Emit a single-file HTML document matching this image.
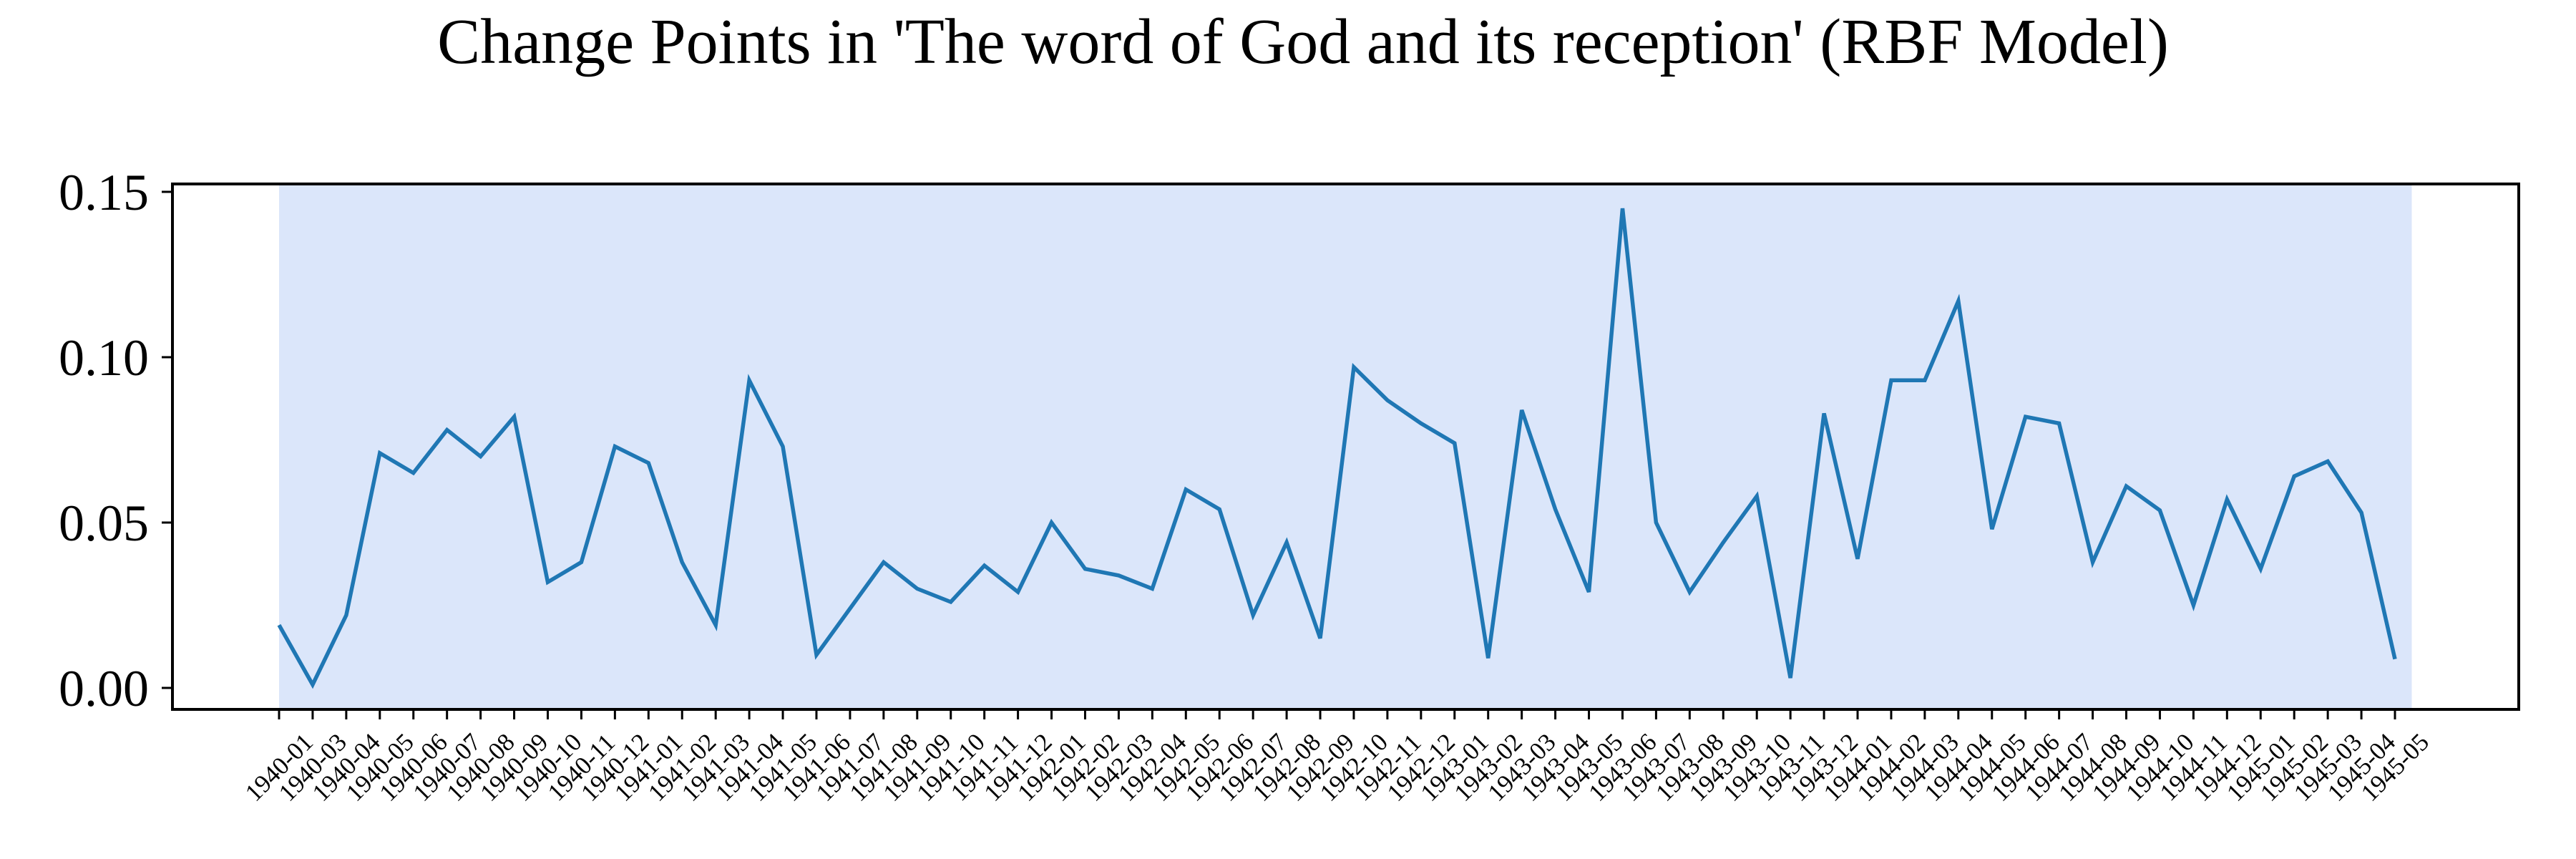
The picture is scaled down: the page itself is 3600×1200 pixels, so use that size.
<!DOCTYPE html>
<html><head><meta charset="utf-8"><style>
html,body{margin:0;padding:0;background:#fff}
svg{display:block}
text{font-family:"Liberation Serif","Times New Roman",serif;fill:#000}
</style></head><body>
<svg id="chart" width="3600" height="1200" viewBox="0 0 3600 1200">
<text x="1821" y="88" font-size="90" text-anchor="middle">Change Points in 'The word of God and its reception' (RBF Model)</text>
<g id="plot"></g>
</svg>
<script>
const categories = ["1940-01","1940-03","1940-04","1940-05","1940-06","1940-07","1940-08","1940-09","1940-10","1940-11","1940-12",
"1941-01","1941-02","1941-03","1941-04","1941-05","1941-06","1941-07","1941-08","1941-09","1941-10","1941-11","1941-12",
"1942-01","1942-02","1942-03","1942-04","1942-05","1942-06","1942-07","1942-08","1942-09","1942-10","1942-11","1942-12",
"1943-01","1943-02","1943-03","1943-04","1943-05","1943-06","1943-07","1943-08","1943-09","1943-10","1943-11","1943-12",
"1944-01","1944-02","1944-03","1944-04","1944-05","1944-06","1944-07","1944-08","1944-09","1944-10","1944-11","1944-12",
"1945-01","1945-02","1945-03","1945-04","1945-05"];
const values = [0.019,0.001,0.022,0.071,0.065,0.078,0.070,0.082,0.032,0.038,0.073,
0.068,0.038,0.019,0.093,0.073,0.010,0.024,0.038,0.030,0.026,0.037,0.029,
0.050,0.036,0.034,0.030,0.060,0.054,0.022,0.044,0.015,0.097,0.087,0.080,
0.074,0.009,0.084,0.054,0.029,0.145,0.050,0.029,0.044,0.058,0.003,0.083,
0.039,0.093,0.093,0.117,0.048,0.082,0.080,0.038,0.061,0.0537,0.025,0.057,
0.036,0.064,0.0685,0.053,0.0087];
const yTicks = [0.00,0.05,0.10,0.15];
const yTickLabels = ["0.00","0.05","0.10","0.15"];
const spanStart = 0, spanEnd = 63.5;

const NS="http://www.w3.org/2000/svg";
const g=document.getElementById('plot');
const L=241,R=3520,T=257,B=991;
const x0=390, x1=3347;
function xs(i){return x0+(x1-x0)*i/(categories.length-1);}
function ys(v){return 961-(v/0.15)*693;}
function mk(t,a){const e=document.createElementNS(NS,t);for(const k in a)e.setAttribute(k,a[k]);g.appendChild(e);return e;}

const span=mk('rect',{x:xs(spanStart),y:T,width:xs(spanEnd)-xs(spanStart),height:B-T,fill:'#dbe6fa'});



let d='';
values.forEach((v,i)=>{d+=(i?'L':'M')+xs(i).toFixed(1)+' '+ys(v).toFixed(1);});
const line=mk('path',{d:d,fill:'none',stroke:'#1f77b4','stroke-width':5.5,'stroke-linejoin':'miter'});



const frame=mk('rect',{x:L,y:T,width:R-L,height:B-T,fill:'none',stroke:'#000','stroke-width':4});



yTicks.forEach((v,i)=>{
  const y=ys(v);
  const t=mk('line',{x1:L-15,x2:L,y1:y,y2:y,stroke:'#000','stroke-width':3});
  
  
  const lb=mk('text',{x:208,y:y+25,'font-size':72,'text-anchor':'end'});
  lb.textContent=yTickLabels[i];
  
  
});
categories.forEach((c,i)=>{
  const x=xs(i);
  const t=mk('line',{x1:x,x2:x,y1:B,y2:B+14,stroke:'#000','stroke-width':3});
  
  
  const lb=mk('text',{x:x,y:1072,'font-size':35,'text-anchor':'middle','dominant-baseline':'central',transform:`rotate(-45 ${x} 1072)`});
  lb.textContent=c;
  
  
});
</script>
</body></html>
